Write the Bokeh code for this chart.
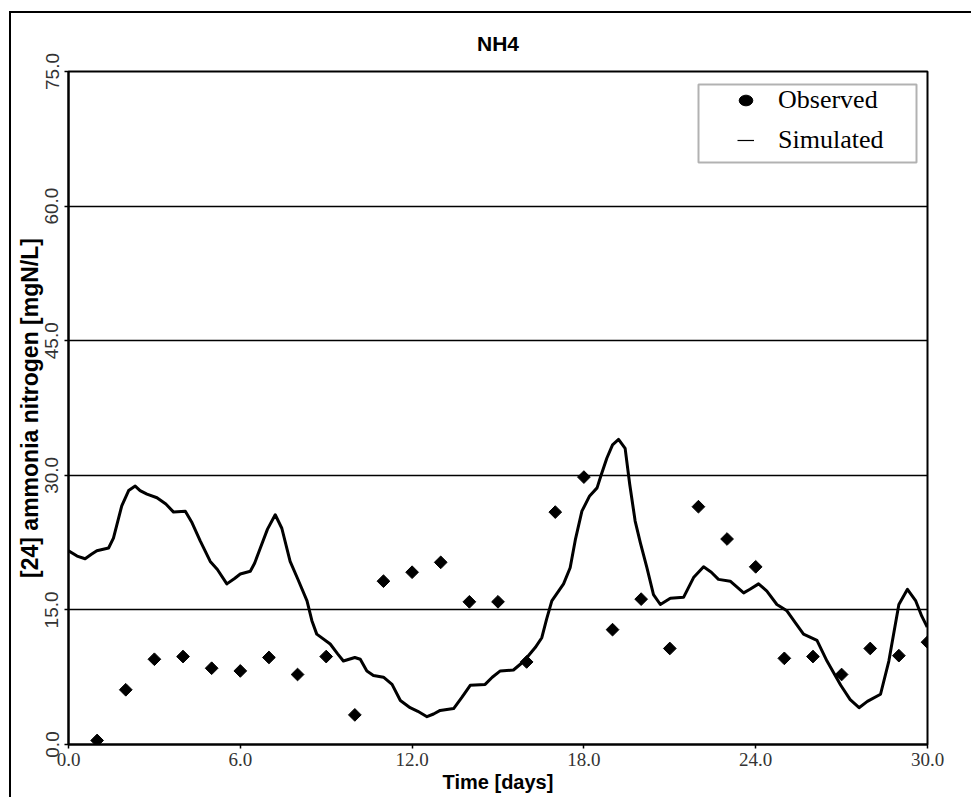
import numpy as np
from bokeh.plotting import figure
from bokeh.models import (Range1d, FixedTicker, NumeralTickFormatter, Legend,
                          LegendItem, BoxAnnotation)
from bokeh.embed import file_html
from bokeh.resources import INLINE

title_text = "NH4"
x_label = "Time [days]"
y_label = "[24] ammonia nitrogen [mgN/L]"
x_ticks = [0, 6, 12, 18, 24, 30]
y_ticks = [0, 15, 30, 45, 60, 75]

obs_day = list(range(1, 31))
obs_val = [0.45, 6.1, 9.5, 9.8, 8.5, 8.2, 9.7, 7.8, 9.8, 3.3,
           18.2, 19.2, 20.3, 15.9, 15.9, 9.2, 25.9, 29.8, 12.8, 16.2,
           10.7, 26.5, 22.9, 19.8, 9.6, 9.8, 7.8, 10.7, 9.9, 11.4]

sim_day = [0.0, 0.3, 0.58, 0.8, 0.99, 1.4, 1.57, 1.86, 2.1, 2.33, 2.5, 2.74,
           3.09, 3.4, 3.67, 4.08, 4.3, 4.6, 4.95, 5.2, 5.53, 5.8, 6.0, 6.35,
           6.5, 6.7, 6.95, 7.22, 7.45, 7.74, 8.0, 8.33, 8.5, 8.67, 9.14, 9.4,
           9.6, 10.0, 10.19, 10.42, 10.65, 11.0, 11.3, 11.59, 11.93, 12.2,
           12.52, 12.75, 12.98, 13.45, 13.75, 14.03, 14.55, 14.8, 15.08, 15.54,
           15.8, 16.01, 16.3, 16.53, 16.7, 16.88, 17.29, 17.52, 17.7, 17.93,
           18.2, 18.46, 18.6, 18.8, 19.0, 19.21, 19.44, 19.6, 19.79, 19.97,
           20.2, 20.43, 20.67, 21.02, 21.48, 21.83, 22.18, 22.45, 22.7, 23.11,
           23.58, 23.8, 24.1, 24.39, 24.74, 25.09, 25.4, 25.67, 26.14, 26.49,
           26.97, 27.3, 27.61, 27.9, 28.36, 28.65, 29.0, 29.3, 29.59, 29.8, 29.99]
sim_val = [21.6, 21.0, 20.7, 21.2, 21.6, 21.9, 23.0, 26.6, 28.3, 28.8, 28.3, 27.9,
           27.5, 26.8, 25.9, 26.0, 24.8, 22.7, 20.4, 19.5, 17.9, 18.5, 19.0, 19.3,
           20.2, 21.9, 24.0, 25.6, 24.1, 20.4, 18.5, 16.0, 13.8, 12.3, 11.2, 10.1,
           9.3, 9.7, 9.5, 8.2, 7.7, 7.5, 6.7, 4.9, 4.1, 3.7,
           3.1, 3.4, 3.8, 4.0, 5.3, 6.6, 6.7, 7.5, 8.2, 8.3,
           9.0, 9.7, 10.8, 11.9, 14.0, 16.0, 17.9, 19.7, 22.8, 26.0,
           27.7, 28.6, 30.0, 31.9, 33.4, 34.0, 33.0, 29.0, 24.9, 22.5,
           19.7, 16.7, 15.6, 16.3, 16.4, 18.6, 19.8, 19.2, 18.4, 18.2,
           16.9, 17.3, 17.9, 17.1, 15.6, 14.9, 13.5, 12.3, 11.6, 9.3,
           6.6, 5.0, 4.1, 4.8, 5.6, 9.3, 15.6, 17.3, 16.0, 14.3, 13.1]

# canvas is offset by the outer panel border (9px + 2px left, 11px + 2px top)
p = figure(width=962, height=786, output_backend="svg", toolbar_location=None,
           x_range=Range1d(0, 30), y_range=Range1d(0, 75),
           min_border_left=57, min_border_right=46, min_border_top=58,
           min_border_bottom=55, title=title_text)
p.styles = {"margin-left": "9px", "margin-top": "11px",
            "border-left": "2px solid black", "border-top": "2px solid black"}

p.background_fill_color = "white"
p.border_fill_color = "white"
p.outline_line_color = "black"
p.outline_line_width = 2

# title
p.title.align = "center"
p.title.text_font = "Liberation Sans"
p.title.text_font_style = "bold"
p.title.text_font_size = "21px"
p.title.text_color = "black"
p.title.standoff = 33

# axes
for ax in (p.xaxis[0], p.yaxis[0]):
    ax.axis_line_color = "black"
    ax.axis_line_width = 2
    ax.major_tick_line_color = "black"
    ax.major_tick_line_width = 1.5
    ax.major_tick_in = 0
    ax.major_tick_out = 4
    ax.minor_tick_line_color = None
    ax.formatter = NumeralTickFormatter(format="0.0")
    ax.major_label_text_color = "#333333"
    ax.axis_label_text_color = "black"
    ax.axis_label_text_font_style = "bold"
    ax.axis_label_text_font = "Liberation Sans"

p.xaxis.ticker = FixedTicker(ticks=x_ticks)
p.yaxis.ticker = FixedTicker(ticks=y_ticks)
p.xaxis.axis_label = x_label
p.yaxis.axis_label = y_label
p.xaxis.major_label_text_font = "Liberation Sans Narrow"
p.xaxis.major_label_text_font_size = "19px"
p.xaxis.major_label_standoff = 4
p.xaxis.axis_label_text_font_size = "20px"
p.xaxis.axis_label_standoff = 2
p.yaxis.major_label_text_font = "Liberation Sans"
p.yaxis.major_label_text_font_size = "19px"
p.yaxis.major_label_orientation = "vertical"
p.yaxis.major_label_standoff = 6
p.yaxis.axis_label_text_font_size = "23px"
p.yaxis.axis_label_standoff = 0

p.xgrid.grid_line_color = None
p.ygrid.grid_line_color = "black"
p.ygrid.grid_line_width = 1.5
p.ygrid.ticker = FixedTicker(ticks=y_ticks)

# data
sim_r = p.line(sim_day, sim_val, line_color="black", line_width=3, line_join="round")
legend_dot = p.ellipse(obs_day, obs_val, width=1.4, height=1.1,
                       width_units="screen", height_units="screen",
                       fill_color="black", line_color="black")
obs_r = p.scatter(obs_day, obs_val, marker="square", angle=np.pi / 4, size=9,
                  fill_color="black", line_color="black")
legend_line = p.line(sim_day, sim_val, line_color="black", line_width=1.2)

legend = Legend(items=[LegendItem(label="Observed", renderers=[legend_dot]),
                       LegendItem(label="Simulated", renderers=[legend_line])],
                location=(669, 589), padding=0, margin=0, spacing=10,
                glyph_width=17, glyph_height=30, label_standoff=24,
                label_text_font="Liberation Serif", label_text_font_size="26px",
                label_text_color="black", border_line_alpha=0,
                background_fill_alpha=0)
p.add_layout(legend)

legend_box = BoxAnnotation(left=685, right=903, top=69, bottom=147,
                           left_units="canvas", right_units="canvas",
                           top_units="canvas", bottom_units="canvas",
                           fill_alpha=0, line_color="black", line_width=2)
p.add_layout(legend_box)

open("out.html", "w").write(file_html(p, INLINE))
